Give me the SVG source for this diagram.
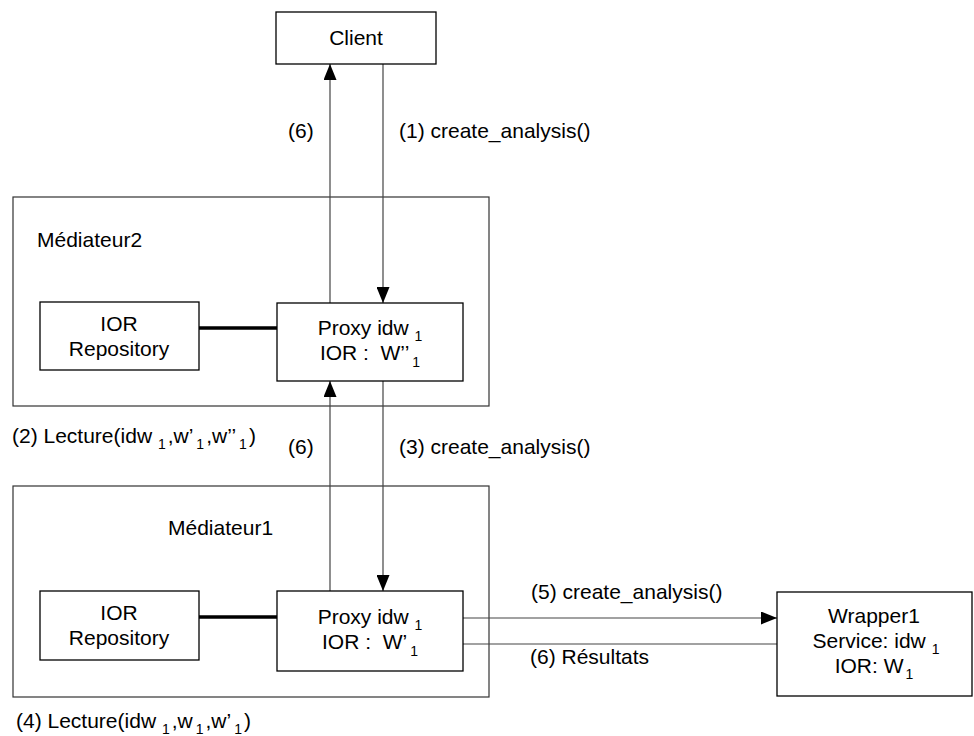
<svg xmlns="http://www.w3.org/2000/svg" width="974" height="736" viewBox="0 0 974 736">
<style>
text{font-family:"Liberation Sans",Arial,Helvetica,sans-serif;font-size:21px;fill:#000}
.m{text-anchor:middle}
.s{font-size:14px}
.box{fill:#fff;stroke:#000;stroke-width:1.3}
.cont{fill:none;stroke:#333;stroke-width:1.2}
.link{stroke:#000;stroke-width:3.5}
.c{fill:none;stroke:#444;stroke-width:1.2}
</style>
<defs>
<marker id="ah" markerUnits="userSpaceOnUse" markerWidth="17" markerHeight="13" refX="16" refY="6.5" orient="auto">
<path d="M0,0 L16,6.5 L0,13 z" fill="#000"/>
</marker>
</defs>
<rect width="974" height="736" fill="#fff"/>

<g id="mediateur2">
<rect class="cont" x="13" y="197" width="476" height="209"/>
<text x="37" y="247">Médiateur2</text>
</g>
<g id="mediateur1">
<rect class="cont" x="13" y="486" width="476" height="211"/>
<text x="168" y="535">Médiateur1</text>
</g>

<g id="connectors">
<line class="c" x1="330" y1="303" x2="330" y2="64" marker-end="url(#ah)"/>
<line class="c" x1="383" y1="64" x2="383" y2="303" marker-end="url(#ah)"/>
<line class="c" x1="330" y1="591" x2="330" y2="381" marker-end="url(#ah)"/>
<line class="c" x1="383" y1="381" x2="383" y2="591" marker-end="url(#ah)"/>
<line class="c" x1="463" y1="618" x2="777" y2="618" marker-end="url(#ah)"/>
<line class="c" x1="463" y1="644" x2="777" y2="644"/>
<line class="link" x1="199" y1="328" x2="277" y2="328"/>
<line class="link" x1="199" y1="617" x2="277" y2="617"/>
<text x="288" y="138">(6)</text>
<text x="399" y="138">(1) create_analysis()</text>
<text x="288" y="454">(6)</text>
<text x="399" y="454">(3) create_analysis()</text>
<text x="531" y="599">(5) create_analysis()</text>
<text x="530" y="664">(6) Résultats</text>
<text x="12" y="443">(2) Lecture(idw <tspan class="s" dy="6">1</tspan><tspan dy="-6" dx="2">,w’</tspan><tspan class="s" dx="3" dy="6">1</tspan><tspan dy="-6" dx="2">,w’’</tspan><tspan class="s" dx="3" dy="6">1</tspan><tspan dy="-6" dx="2">)</tspan></text>
<text x="16" y="728">(4) Lecture(idw <tspan class="s" dy="6">1</tspan><tspan dy="-6" dx="2">,w</tspan><tspan class="s" dx="3" dy="6">1</tspan><tspan dy="-6" dx="2">,w’</tspan><tspan class="s" dx="3" dy="6">1</tspan><tspan dy="-6" dx="2">)</tspan></text>
</g>

<g id="client">
<rect class="box" x="276" y="12" width="160" height="52"/>
<text class="m" x="356" y="45">Client</text>
</g>

<g id="ior2">
<rect class="box" x="40" y="302" width="159" height="68"/>
<text class="m" x="119" y="331">IOR</text>
<text class="m" x="119" y="356">Repository</text>
</g>
<g id="proxy2">
<rect class="box" x="277" y="303" width="186" height="78"/>
<text class="m" x="370" y="335">Proxy idw <tspan class="s" dy="6">1</tspan></text>
<text class="m" x="370" y="360" xml:space="preserve">IOR :  W’’<tspan class="s" dx="3" dy="7">1</tspan></text>
</g>

<g id="ior1">
<rect class="box" x="40" y="591" width="159" height="69"/>
<text class="m" x="119" y="620">IOR</text>
<text class="m" x="119" y="645">Repository</text>
</g>
<g id="proxy1">
<rect class="box" x="277" y="591" width="186" height="80"/>
<text class="m" x="370" y="624">Proxy idw <tspan class="s" dy="6">1</tspan></text>
<text class="m" x="370" y="649" xml:space="preserve">IOR :  W’<tspan class="s" dx="3" dy="7">1</tspan></text>
</g>

<g id="wrapper1">
<rect class="box" x="777" y="592" width="195" height="104"/>
<text class="m" x="874" y="623">Wrapper1</text>
<text class="m" x="876" y="648">Service: idw <tspan class="s" dy="6">1</tspan></text>
<text class="m" x="874" y="673">IOR: W<tspan class="s" dx="2" dy="6">1</tspan></text>
</g>
</svg>
